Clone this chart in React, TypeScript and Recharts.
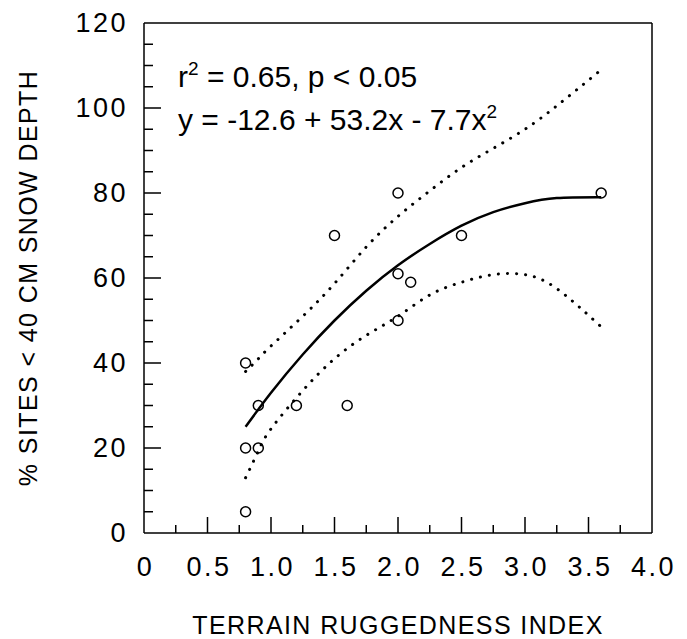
import React from 'react';
import {
  ComposedChart, Line, Scatter, XAxis, YAxis, ReferenceLine,
} from 'recharts';

// observed sites
const siteX = [0.8, 0.8, 0.8, 0.9, 0.9, 1.2, 1.5, 1.6, 2.0, 2.0, 2.1, 2.0, 2.5, 3.6];
const siteY = [40, 20, 5, 30, 20, 30, 70, 30, 80, 61, 59, 50, 70, 80];

// fitted curve
const fitX = [0.8, 1.0, 1.25, 1.5, 1.75, 2.0, 2.25, 2.5, 2.75, 3.0, 3.25, 3.6];
const fitY = [25, 33, 42, 50, 57, 63, 68, 72.3, 75.5, 77.6, 78.8, 79];

// dotted confidence bands
const bandX = [0.8, 0.9, 1.0, 1.25, 1.5, 1.75, 2.0, 2.25, 2.5, 2.75, 3.0, 3.25, 3.6];
const upperY = [38, 41, 44, 51, 58.7, 67.3, 74.5, 80.5, 86, 90.5, 95, 100.5, 109];
const lowerY = [13, 19.3, 24.5, 33.5, 41, 46.5, 51, 56, 59, 60.8, 60.8, 57.5, 48.5];

const xTicks = [0, 0.25, 0.5, 0.75, 1, 1.25, 1.5, 1.75, 2, 2.25, 2.5, 2.75, 3, 3.25, 3.5, 3.75, 4];
const yTicks = [0, 5, 10, 15, 20, 25, 30, 35, 40, 45, 50, 55, 60, 65, 70, 75, 80, 85, 90, 95, 100, 105, 110, 115, 120];

const sites = siteX.map((x, i) => ({ x, y: siteY[i] }));
const fit = fitX.map((x, i) => ({ x, y: fitY[i] }));
const upper = bandX.map((x, i) => ({ x, y: upperY[i] }));
const lower = bandX.map((x, i) => ({ x, y: lowerY[i] }));

const FONT = '"Liberation Sans", Arial, Helvetica, sans-serif';

// ticks point inward, long ones every 0.5 / 20
const XTick = (props: any) => {
  const { x, y, payload } = props;
  const v = payload.value;
  const major = Math.abs(v * 2 - Math.round(v * 2)) < 1e-6;
  const label = v === 0 ? '0' : v.toFixed(1);
  const len = major ? 16 : 8;
  return (
    <g>
      {v > 0 && v < 4 && <rect x={x - 0.75} y={y - len} width={1.5} height={len} fill="#000" />}
      {major && (
        <text x={x + 1.5} y={y + 43} textAnchor="middle" fontSize={27} fontFamily={FONT}
          letterSpacing={2.5} fill="#000">{label}</text>
      )}
    </g>
  );
};

const YTick = (props: any) => {
  const { x, y, payload } = props;
  const v = payload.value;
  const major = v % 20 === 0;
  const len = major ? 17 : 9;
  return (
    <g>
      {v > 0 && v < 120 && <rect x={x} y={y - 0.75} width={len} height={1.5} fill="#000" />}
      {major && (
        <text x={x - 16} y={y + 9} textAnchor="end" fontSize={27} fontFamily={FONT}
          letterSpacing={2.5} fill="#000">{v}</text>
      )}
    </g>
  );
};

const XTitle = (props: any) => {
  const { viewBox } = props;
  return (
    <text x={viewBox.x + viewBox.width / 2} y={viewBox.y + 101} textAnchor="middle"
      fontSize={25} fontFamily={FONT} letterSpacing={1.4} fill="#000">
      TERRAIN RUGGEDNESS INDEX
    </text>
  );
};

const YTitle = (props: any) => {
  const { viewBox } = props;
  const cx = 29;
  const cy = viewBox.y + viewBox.height / 2;
  return (
    <text x={cx} y={cy} transform={`rotate(-90, ${cx}, ${cy})`} textAnchor="middle"
      fontSize={25} fontFamily={FONT} letterSpacing={1.4} fill="#000">
      % SITES &lt; 40 CM SNOW DEPTH
    </text>
  );
};

const Ring = (props: any) => (
  <circle cx={props.cx} cy={props.cy} r={5} fill="none" stroke="#000" strokeWidth={1.5} />
);

const boxLine = { stroke: '#000', strokeWidth: 1.5 };

export default function App() {
  return (
    <div style={{ width: 671, height: 631, background: '#fff' }}>
      <ComposedChart width={671} height={631} margin={{ top: 15, right: 27, bottom: 0, left: 36 }}>
        <XAxis dataKey="x" type="number" domain={[0, 4]} ticks={xTicks} interval={0}
          tickSize={0} tickMargin={0} tickLine={false} height={106}
          axisLine={boxLine} tick={<XTick />} label={<XTitle />} allowDataOverflow />
        <YAxis dataKey="y" type="number" domain={[0, 120]} ticks={yTicks} interval={0}
          tickSize={0} tickMargin={0} tickLine={false} width={100}
          axisLine={boxLine} tick={<YTick />} label={<YTitle />} allowDataOverflow />
        <ReferenceLine y={120} stroke="#000" strokeWidth={1.5} />
        <ReferenceLine x={4} stroke="#000" strokeWidth={1.5} />
        <Line data={upper} dataKey="y" type="natural" stroke="#000" strokeWidth={3}
          strokeDasharray="0.1 9" strokeLinecap="round" dot={false} isAnimationActive={false} />
        <Line data={lower} dataKey="y" type="natural" stroke="#000" strokeWidth={3}
          strokeDasharray="0.1 9" strokeLinecap="round" dot={false} isAnimationActive={false} />
        <Line data={fit} dataKey="y" type="natural" stroke="#000" strokeWidth={2.5}
          dot={false} isAnimationActive={false} />
        <Scatter data={sites} dataKey="y" shape={<Ring />} isAnimationActive={false} />
        <text x={170} y={79} fontSize={30} fontFamily={FONT} fill="#000">
          r<tspan dy={-12} fontSize={19}>2</tspan><tspan dy={12}> = 0.65, p &lt; 0.05</tspan>
        </text>
        <text x={170} y={122} fontSize={30} fontFamily={FONT} fill="#000">
          y = -12.6 + 53.2x - 7.7x<tspan dy={-12} fontSize={19}>2</tspan>
        </text>
      </ComposedChart>
    </div>
  );
}
